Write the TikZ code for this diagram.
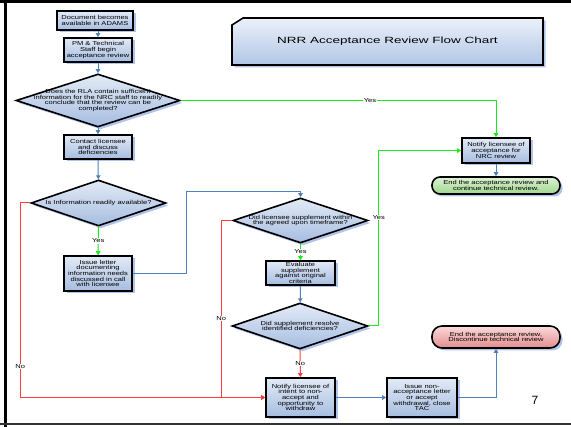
\documentclass[tikz,border=0pt]{standalone}
\usepackage{fontspec}
\setmainfont{Liberation Sans}
\newfontfamily\boxfont[FakeStretch=1.3]{Liberation Sans}
\newfontfamily\titlefont[FakeStretch=1.5]{Liberation Sans}
\usetikzlibrary{shapes.geometric,shadows,arrows.meta}
\definecolor{lblue}{RGB}{79,129,189}
\definecolor{lgreen}{RGB}{25,235,25}
\definecolor{lred}{RGB}{255,60,60}
\definecolor{boxtop}{RGB}{226,234,246}
\definecolor{boxbot}{RGB}{166,189,224}
\definecolor{shad}{RGB}{150,176,228}
\definecolor{gtop}{RGB}{222,242,214}
\definecolor{gbot}{RGB}{158,214,140}
\definecolor{rtop}{RGB}{250,218,218}
\definecolor{rbot}{RGB}{226,140,140}
\definecolor{ttop}{RGB}{236,241,249}
\definecolor{tbot}{RGB}{176,198,230}
\tikzset{
  shadowed/.style={drop shadow={shadow xshift=2.5pt, shadow yshift=-2.5pt, fill=shad, opacity=.75}},
  proc/.style={rectangle, draw=black, line width=1.6pt, top color=boxtop, bottom color=boxbot,
    align=center, font=\boxfont\fontsize{5.8}{5.6}\selectfont, inner sep=0pt, shadowed},
  decision/.style={diamond, draw=black, line width=1.6pt, top color=boxtop, bottom color=boxbot,
    inner sep=0pt, shadowed},
  dtext/.style={align=center, font=\boxfont\fontsize{5.8}{5.6}\selectfont, inner sep=0pt},
  term/.style={rectangle, rounded corners=8pt, draw=black, line width=1.6pt, align=center,
    font=\boxfont\fontsize{5.8}{5.6}\selectfont, inner sep=0pt, shadowed},
  conn/.style={line width=1pt, -{Triangle[width=4.5pt,length=4pt]}},
  blueline/.style={conn, draw=lblue},
  greenline/.style={conn, draw=lgreen},
  redline/.style={conn, draw=lred},
  lab/.style={fill=white, inner sep=0.6pt, font=\boxfont\fontsize{5.8}{6}\selectfont}
}
\begin{document}
\begin{tikzpicture}[x=1pt,y=-1pt]
\clip (0,0) rectangle (571,427);
\fill[white] (0,0) rectangle (571,427);
% frame
\draw[line width=3pt, black] (5,0) -- (5,427);
\draw[line width=3pt, black] (0,2) -- (571,2);
\draw[line width=2pt, black!80] (0,424.5) -- (571,424.5);

% title box
\fill[shad, opacity=.75] (234.5,27.5) -- (245.5,20.5) -- (545.5,20.5) -- (545.5,67.5) -- (234.5,67.5) -- cycle;
\draw[line width=1.6pt, top color=ttop, bottom color=tbot] (232,25) -- (243,18) -- (543,18) -- (543,65) -- (232,65) -- cycle;
\node[font=\titlefont\fontsize{9}{11}\selectfont] (title) at (387.5,41.5) {NRR Acceptance Review Flow Chart};

% nodes
\node[proc, minimum width=76pt, minimum height=19pt] (b1) at (95,20.5) {Document becomes\\available in ADAMS};
\node[proc, minimum width=68pt, minimum height=24pt] (b2) at (98,50) {PM \& Technical\\Staff begin\\acceptance review};
\node[decision, minimum width=164pt, minimum height=53pt] (d1) at (98,100.5) {};
\node[dtext] (d1t) at (98,100.5) {Does the RLA contain sufficient\\information for the NRC staff to readily\\conclude that the review can be\\completed?};
\node[proc, minimum width=68pt, minimum height=24pt] (b3) at (98,147) {Contact licensee\\and discuss\\deficiencies};
\node[decision, minimum width=135pt, minimum height=46pt] (d2) at (98.5,203) {};
\node[dtext] (d2t) at (98.5,203) {Is Information readily available?};
\node[proc, minimum width=68pt, minimum height=35pt] (b4) at (98,273.5) {Issue letter\\documenting\\information needs\\discussed in call\\with licensee};
\node[decision, minimum width=135pt, minimum height=45pt] (d3) at (300.5,220.5) {};
\node[dtext] (d3t) at (300.5,220.5) {Did licensee supplement within\\the agreed upon timeframe?};
\node[proc, minimum width=69pt, minimum height=24pt] (b5) at (300.5,273) {Evaluate\\supplement\\against original\\criteria};
\node[decision, minimum width=136pt, minimum height=46pt] (d4) at (300,326) {};
\node[dtext] (d4t) at (300,326) {Did supplement resolve\\identified deficiencies?};
\node[proc, minimum width=69pt, minimum height=39pt] (b6) at (300.5,397.5) {Notify licensee of\\intent to non-\\accept and\\opportunity to\\withdraw};
\node[proc, minimum width=70pt, minimum height=39pt] (b7) at (422,397.5) {Issue non-\\acceptance letter\\or accept\\withdrawal, close\\TAC};
\node[term, top color=rtop, bottom color=rbot, minimum width=128pt, minimum height=22pt, rounded corners=10pt] (o1) at (496,337) {End the acceptance review,\\Discontinue technical review};
\node[proc, minimum width=68pt, minimum height=25pt] (b8) at (496,150.5) {Notify licensee of\\acceptance for\\NRC review};
\node[term, top color=gtop, bottom color=gbot, minimum width=128pt, minimum height=17pt] (o2) at (496,185.5) {End the acceptance review and\\continue technical review.};
\node[font=\fontsize{12}{14}\selectfont] (pg) at (535,400) {7};

% connectors
\draw[blueline] (b1.south -| b2.north) -- (b2.north);
\draw[blueline] (b2) -- (d1);
\draw[blueline] (d1) -- (b3);
\draw[greenline] (d1.east) -| node[lab, pos=0.3] {Yes} (b8.north);
\draw[blueline] (b3) -- (d2);
\draw[greenline] (d2) -- node[lab] {Yes} (b4);
\draw[redline] (d2.west) -- ++(-10pt,0) |- node[lab, pos=0.42] {No} (b6.west);
\draw[blueline] (b4.east) -- ++(54pt,0) |- ([yshift=6pt]d3.north) -- (d3.north);
\draw[greenline] (d3) -- node[lab] {Yes} (b5);
\draw[redline] (d3.west) -- ++(-11pt,0) |- node[lab, pos=0.276] {No} (b6.west);
\draw[blueline] (b5) -- (d4);
\draw[redline] (d4) -- node[lab] {No} (b6);
\draw[greenline] (d4.east) -- ++(10pt,0) |- node[lab, pos=0.31] {Yes} (b8.west);
\draw[blueline] (b6) -- (b7);
\draw[blueline] (b7.east) -| (o1.south);
\draw[blueline] (b8) -- (o2);
\end{tikzpicture}
\end{document}
